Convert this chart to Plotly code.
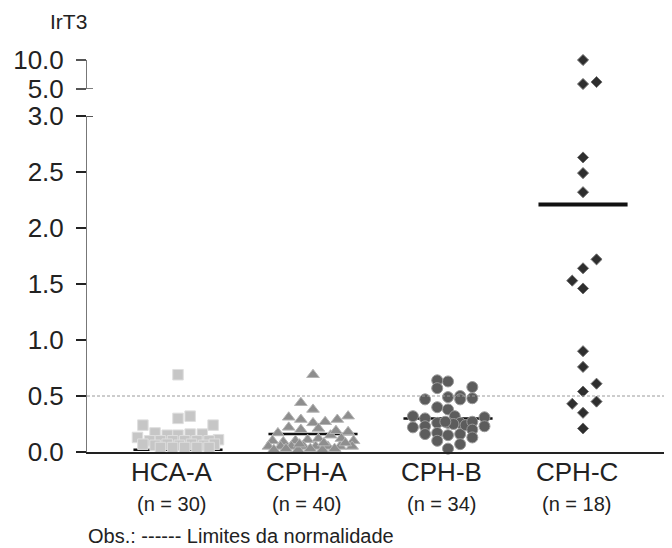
import plotly.graph_objects as go

# ---------------- data ----------------
GROUPS = ["HCA-A", "CPH-A", "CPH-B", "CPH-C"]
N_LABELS = ["(n = 30)", "(n = 40)", "(n = 34)", "(n = 18)"]
LOWER_TICKS = [0.0, 0.5, 1.0, 1.5, 2.0, 2.5, 3.0]
UPPER_TICKS = [5.0, 10.0]
NORMAL_LIMIT = 0.5
MEDIANS = [0.02, 0.16, 0.30, 2.21]

HCA_A = [0.69, 0.30, 0.32, 0.24, 0.24, 0.17, 0.15, 0.15, 0.16, 0.16,
         0.13, 0.11, 0.10, 0.10, 0.10, 0.10, 0.10, 0.10, 0.07, 0.06,
         0.07, 0.06, 0.07, 0.06, 0.07, 0.04, 0.04, 0.04, 0.04, 0.04]
HCA_A_JIT = [0, 0, 0.09, -0.26, 0.26, -0.17, -0.08, 0, 0.09, 0.18,
             -0.30, 0.30, -0.21, -0.13, -0.04, 0.05, 0.14, 0.23, -0.26, -0.17,
             -0.08, 0.01, 0.10, 0.19, 0.27, -0.13, -0.04, 0.05, 0.14, 0.23]

CPH_A = [0.69, 0.44, 0.38, 0.31, 0.29, 0.26, 0.27, 0.29, 0.32, 0.22,
         0.20, 0.21, 0.17, 0.18, 0.10, 0.09, 0.10, 0.11, 0.12, 0.15,
         0.12, 0.10, 0.05, 0.05, 0.05, 0.05, 0.05, 0.05, 0.05, 0.05,
         0.02, 0.03, 0.02, 0.03, 0.02, 0.03, 0.08, 0.08, 0.07, 0.19]
CPH_A_JIT = [0, -0.09, 0, -0.18, -0.09, 0, 0.09, 0.18, 0.26, -0.18,
             -0.09, 0.04, -0.26, 0.26, -0.30, -0.22, -0.13, -0.04, 0.04, 0.13,
             0.21, 0.30, -0.33, -0.24, -0.16, -0.07, 0.02, 0.11, 0.20, 0.29,
             -0.29, -0.20, -0.11, -0.02, 0.07, 0.16, 0.24, 0.08, -0.10, 0.17]

CPH_B = [0.64, 0.63, 0.57, 0.58, 0.47, 0.49, 0.50, 0.47, 0.48, 0.40,
         0.38, 0.32, 0.32, 0.31, 0.22, 0.30, 0.23, 0.16, 0.26, 0.17,
         0.10, 0.26, 0.15, 0.03, 0.26, 0.16, 0.07, 0.24, 0.27, 0.20,
         0.13, 0.23, 0.25, 0.27]
CPH_B_JIT = [-0.08, 0, -0.08, 0.18, -0.17, 0, 0.09, 0.09, 0.18, -0.08,
             0, -0.26, 0.05, 0.27, -0.26, -0.17, -0.17, -0.17, -0.08, -0.08,
             -0.08, 0, 0, 0, 0.09, 0.09, 0.09, 0.13, 0.18, 0.18,
             0.18, 0.27, 0.04, -0.02]

CPH_C = [10.0, 5.86, 6.2, 2.63, 2.49, 2.32, 1.72, 1.64, 1.53, 1.46,
         0.90, 0.76, 0.61, 0.54, 0.43, 0.45, 0.35, 0.21]
CPH_C_JIT = [0, 0, 0.10, 0, 0, 0, 0.10, 0, -0.08, 0,
             0, 0, 0.10, 0, -0.08, 0.10, 0, 0]

SERIES = [HCA_A, CPH_A, CPH_B, CPH_C]
JITTERS = [HCA_A_JIT, CPH_A_JIT, CPH_B_JIT, CPH_C_JIT]

# ---------------- styles ----------------
STYLES = [
    dict(symbol="square", size=10.5, color="#c6c6c6", line=dict(color="#dedede", width=1)),
    dict(symbol="triangle-up", size=11, color="#8e8e8e", line=dict(color="#b4b4b4", width=1)),
    dict(symbol="circle", size=11, color="#5c5c5c", line=dict(color="#9a9a9a", width=1)),
    dict(symbol="diamond", size=8.5, color="#2e2e2e", line=dict(color="#6e6e6e", width=1)),
]
MEDIAN_WIDTHS = [2.5, 2.5, 2.5, 4]
FONT = "Liberation Sans, Arial, sans-serif"
PAGE = 8                 # default page margin of the html body
W, H = 672 - PAGE, 548 - PAGE
LEFT = 87 - PAGE
PW = W - LEFT
X_RANGE = [0.326, 4.659]


def py(pix):  # screen row -> paper fraction
    return (H - (pix - PAGE)) / H


def px(pix):  # screen column -> paper fraction
    return (pix - PAGE - LEFT) / PW


fig = go.Figure()
positions = [i + 1 for i in range(len(GROUPS))]

# medians (drawn beneath the markers)
for pos, med, lw in zip(positions, MEDIANS, MEDIAN_WIDTHS):
    fig.add_trace(go.Scatter(
        x=[pos - 0.33, pos + 0.33], y=[med, med], mode="lines",
        line=dict(color="#111111", width=lw), yaxis="y",
        hoverinfo="skip", showlegend=False, cliponaxis=False))

# points
for pos, vals, jit, st, name in zip(positions, SERIES, JITTERS, STYLES, GROUPS):
    lo_x = [pos + j for v, j in zip(vals, jit) if v <= 3]
    lo_y = [v for v in vals if v <= 3]
    hi_x = [pos + j for v, j in zip(vals, jit) if v > 3]
    hi_y = [v for v in vals if v > 3]
    marker = dict(symbol=st["symbol"], size=st["size"], color=st["color"], line=st["line"])
    fig.add_trace(go.Scatter(x=lo_x, y=lo_y, mode="markers", marker=marker,
                             yaxis="y", name=name, showlegend=False, cliponaxis=False))
    if hi_y:
        fig.add_trace(go.Scatter(x=hi_x, y=hi_y, mode="markers", marker=marker,
                                 yaxis="y2", name=name, showlegend=False, cliponaxis=False))

axis_font = dict(family=FONT, size=26, color="#222222")

fig.update_layout(
    width=W, height=H,
    margin=dict(l=LEFT, r=0, t=0, b=0, autoexpand=False),
    paper_bgcolor="white", plot_bgcolor="white",
    xaxis=dict(domain=[0, 1], range=X_RANGE, showline=True, linecolor="#222222",
               linewidth=2, showticklabels=False, ticks="", showgrid=False,
               zeroline=False, anchor="y", automargin=False),
    yaxis=dict(domain=[py(452), py(116)], range=[0, 3], tickvals=LOWER_TICKS,
               ticktext=[f"{t:.1f}" for t in LOWER_TICKS], ticks="outside",
               ticklen=10, tickwidth=1.5, tickcolor="#222222", showline=True,
               linecolor="#777777", linewidth=1, showgrid=False, zeroline=False,
               tickfont=axis_font, ticklabelstandoff=7, automargin=False),
    yaxis2=dict(domain=[py(89), py(60)], range=[5, 10], tickvals=UPPER_TICKS,
                ticktext=[f"{t:.1f}" for t in UPPER_TICKS], ticks="outside",
                ticklen=10, tickwidth=1.5, tickcolor="#555555", showline=True,
                linecolor="#777777", linewidth=1, showgrid=False, zeroline=False,
                tickfont=axis_font, ticklabelstandoff=7, anchor="x",
                automargin=False),
    showlegend=False,
)

# normal-limit dashed line
fig.add_shape(type="line", xref="paper", yref="y", x0=0, x1=1,
              y0=NORMAL_LIMIT, y1=NORMAL_LIMIT,
              line=dict(color="#9a9a9a", width=1, dash="3px,2px"))
# small right-side tick extensions at the axis break
fig.add_shape(type="line", xref="paper", yref="y", x0=0, x1=px(93), y0=3, y1=3,
              line=dict(color="#222222", width=1.5))
fig.add_shape(type="line", xref="paper", yref="y2", x0=0, x1=px(93), y0=5, y1=5,
              line=dict(color="#555555", width=1.5))

# texts
fig.add_annotation(text="IrT3", xref="paper", yref="paper", x=px(68), y=py(22),
                   showarrow=False, xanchor="center", yanchor="middle",
                   font=dict(family=FONT, size=21, color="#222222"))
for pos, g, n in zip(positions, GROUPS, N_LABELS):
    fig.add_annotation(text=g, xref="x", yref="paper", x=pos - 0.045, y=py(472),
                       showarrow=False, xanchor="center", yanchor="middle",
                       font=dict(family=FONT, size=26, color="#222222"))
    fig.add_annotation(text=n, xref="x", yref="paper", x=pos - 0.045, y=py(504),
                       showarrow=False, xanchor="center", yanchor="middle",
                       font=dict(family=FONT, size=20, color="#222222"))
fig.add_annotation(text="Obs.: ------ Limites da normalidade", xref="paper",
                   yref="paper", x=px(86), y=py(536), showarrow=False,
                   xanchor="left", yanchor="middle",
                   font=dict(family=FONT, size=20, color="#222222"))

fig.write_html("out.html")
